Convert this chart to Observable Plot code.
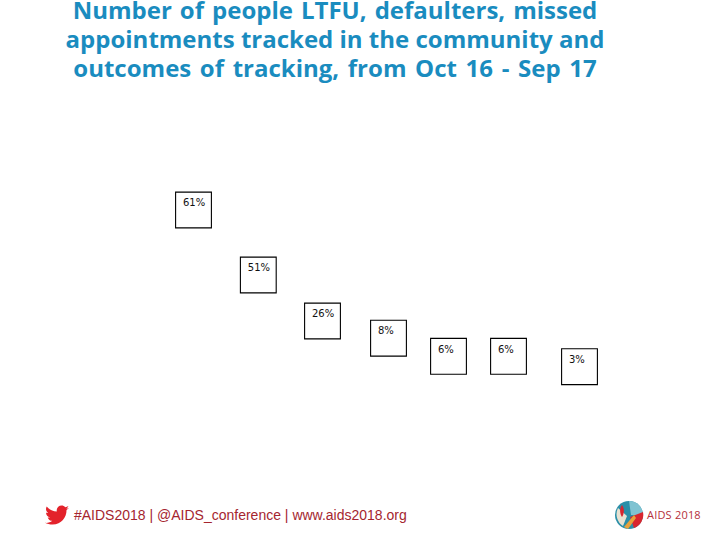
<!DOCTYPE html>
<html><head><meta charset="utf-8">
<script src="https://cdn.jsdelivr.net/npm/d3@7"></script>
<script src="https://cdn.jsdelivr.net/npm/@observablehq/plot@0.6"></script>
<style>
html,body{margin:0;padding:0;background:#fff;overflow:hidden}
#page{position:relative;width:720px;height:540px;overflow:hidden}
#chart{position:absolute;left:0;top:0}
#title{position:absolute;left:15px;width:640px;top:-5px;margin:0;text-align:center;font:700 24px/29px "Open Sans",sans-serif;color:#1a8cbf}
#title .a{word-spacing:1.8px}
#title .c{word-spacing:2.4px}
#foot{position:absolute;left:74px;top:507px;font:14px/17px "Liberation Sans",Arial,sans-serif;color:#a5252f;white-space:nowrap}
#bird{position:absolute;left:45px;top:505px}
#logo{position:absolute;left:614px;top:500px}
#logotext{position:absolute;left:647px;top:508px;font:11px/14px "Open Sans",sans-serif;letter-spacing:.2px;color:#b5303a;white-space:nowrap}
</style></head><body>
<div id="page">
<div id="chart"></div>
<h1 id="title"><span class="a">Number of people LTFU, defaulters, missed</span><br>appointments tracked in the community and<br><span class="c">outcomes of tracking, from Oct 16 - Sep 17</span></h1>
<svg id="bird" width="24" height="21" viewBox="0 0 24 20"><path fill="#e3222b" d="M24 2.4c-.9.4-1.8.7-2.8.8 1-.6 1.8-1.6 2.2-2.7-1 .6-2 1-3.100 1.200C19.300.700 18 0 16.600 0c-2.700 0-4.900 2.200-4.900 4.900 0 .4 0 .8.100 1.100C7.700 5.800 4.100 3.900 1.700.900c-.4.700-.7 1.600-.7 2.500 0 1.700.9 3.200 2.200 4.100-.8 0-1.600-.2-2.200-.6v.1c0 2.400 1.700 4.400 3.900 4.800-.4.100-.8.200-1.300.2-.3 0-.6 0-.9-.1.600 2 2.400 3.400 4.600 3.400-1.700 1.300-3.800 2.100-6.100 2.100-.4 0-.8 0-1.200-.1C2.200 18.300 4.800 19.100 7.500 19.100c9.100 0 14-7.500 14-14v-.6c1-.7 1.800-1.500 2.500-2.100z"/></svg>
<div id="foot">#AIDS2018 | @AIDS_conference | www.aids2018.org</div>
<svg id="logo" width="30" height="30" viewBox="0 0 30 30">
<circle cx="15" cy="15" r="14" fill="#2b8fa8"/>
<path d="M15 1A14 14 0 0 1 29 15L17 15Z" fill="#7fc3d2"/>
<path d="M16 17L29 12A14 14 0 0 1 20 28Z" fill="#d8262f"/>
<path d="M4 8L13 16L9 26A14 14 0 0 1 4 8Z" fill="#e9e2d2"/>
<path d="M8 5C11 9 10 14 8 17C6 14 5 9 8 5Z" fill="#d8262f"/>
<path d="M10 27L20 15L22 18L14 29Z" fill="#e9a23b"/>
</svg>
<div id="logotext">AIDS 2018</div>
</div>
<script>
const positions = [0,1,2,3,4,5,6];
const values = [61,51,26,8,6,6,3];
const labels = ["61%","51%","26%","8%","6%","6%","3%"];
const rows = positions.map((p,i)=>({position:p,value:values[i],label:labels[i]}));

const chart = Plot.plot({
  width:720,height:540,margin:0,
  x:{type:"linear",axis:null,domain:positions,range:[193,257.8,322,388,448,508,579]},
  y:{type:"linear",axis:null,domain:[3,6,8,26,51,61],range:[366.2,355.8,337.7,320.5,274.5,209.5]},
  marks:[
    Plot.dot(rows,{x:"position",y:"value",symbol:"square",r:20.2,fill:"white",stroke:"#000",strokeWidth:1.1}),
    Plot.text(rows,{x:"position",y:"value",text:"label",textAnchor:"start",dx:-10.5,dy:-7,fontSize:10,fontFamily:"DejaVu Sans",fill:"#111"})
  ]
});
document.getElementById("chart").appendChild(chart);
</script>
</body></html>
